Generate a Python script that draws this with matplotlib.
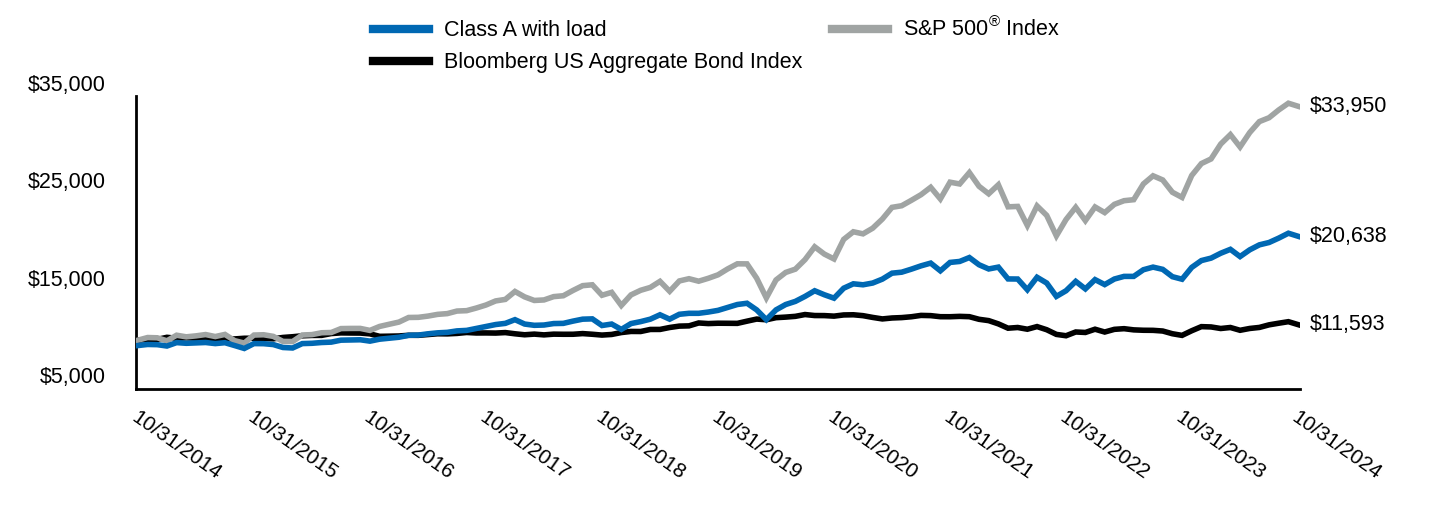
import matplotlib
matplotlib.use("Agg")
import matplotlib.pyplot as plt

plt.rcParams['font.family'] = ['Liberation Sans', 'DejaVu Sans']
plt.rcParams['mathtext.fontset'] = 'custom'
plt.rcParams['mathtext.rm'] = 'Liberation Sans'

months = list(range(121))
tick_positions = [0, 12, 24, 36, 48, 60, 72, 84, 96, 108, 120]
tick_labels = ["10/31/2014", "10/31/2015", "10/31/2016", "10/31/2017", "10/31/2018",
               "10/31/2019", "10/31/2020", "10/31/2021", "10/31/2022", "10/31/2023", "10/31/2024"]

class_a = [9450, 9560, 9540, 9400, 9750, 9680, 9720, 9760, 9650, 9740, 9450, 9150,
           9650, 9640, 9550, 9250, 9200, 9650, 9680, 9760, 9800, 10000, 10020, 10040,
           9900, 10100, 10200, 10300, 10500, 10520, 10650, 10750, 10800, 10950, 11000, 11200,
           11400, 11600, 11720, 12100, 11650, 11520, 11550, 11700, 11720, 11950, 12150, 12180,
           11500, 11650, 11100, 11700, 11900, 12150, 12600, 12150, 12650, 12750, 12750, 12880,
           13050, 13350, 13650, 13780, 13100, 12100, 13100, 13650, 13970, 14480, 15060, 14650,
           14300, 15320, 15770, 15670, 15850, 16250, 16860, 16960, 17270, 17610, 17890, 17100,
           17960, 18060, 18460, 17720, 17290, 17480, 16270, 16260, 15160, 16440, 15850, 14480,
           15060, 16020, 15250, 16200, 15690, 16260, 16530, 16530, 17210, 17480, 17250, 16500,
           16240, 17450, 18150, 18400, 18900, 19300, 18560, 19250, 19760, 20000, 20450, 20950,
           20638]

sp500 = [10000, 10269, 10243, 9936, 10507, 10341, 10440, 10575, 10370, 10588, 9950, 9704,
         10523, 10554, 10388, 9873, 9860, 10528, 10569, 10759, 10787, 11185, 11201, 11203,
         10999, 11406, 11632, 11853, 12323, 12338, 12465, 12641, 12719, 12981, 13021, 13290,
         13600, 14017, 14173, 14985, 14432, 14065, 14118, 14458, 14548, 15089, 15581, 15670,
         14598, 14896, 13551, 14636, 15106, 15399, 16023, 15005, 16062, 16293, 16036, 16336,
         16690, 17296, 17818, 17811, 16346, 14327, 16164, 16934, 17271, 18245, 19557, 18814,
         18314, 20319, 21099, 20886, 21463, 22402, 23599, 23764, 24318, 24897, 25653, 24460,
         26175, 25994, 27159, 25755, 24985, 25912, 23652, 23694, 21739, 23743, 22775, 20677,
         22352, 23601, 22241, 23638, 23061, 23907, 24280, 24384, 25996, 26830, 26403, 25144,
         24616, 26863, 28083, 28555, 30080, 31048, 29782, 31259, 32381, 32776, 33572, 34260,
         33950]

bond = [10000, 10071, 10080, 10292, 10195, 10242, 10205, 10181, 10070, 10140, 10126, 10195,
        10197, 10171, 10138, 10278, 10351, 10446, 10486, 10489, 10678, 10745, 10733, 10727,
        10645, 10393, 10408, 10429, 10499, 10494, 10575, 10656, 10645, 10691, 10787, 10735,
        10741, 10727, 10777, 10653, 10552, 10620, 10541, 10616, 10603, 10605, 10673, 10605,
        10521, 10584, 10779, 10893, 10887, 11096, 11099, 11297, 11439, 11464, 11761, 11699,
        11734, 11728, 11720, 11945, 12160, 12088, 12303, 12361, 12439, 12624, 12522, 12516,
        12460, 12582, 12600, 12509, 12329, 12175, 12271, 12311, 12397, 12536, 12512, 12403,
        12399, 12437, 12404, 12137, 12001, 11667, 11225, 11297, 11120, 11391, 11069, 10591,
        10453, 10838, 10789, 11121, 10833, 11108, 11176, 11054, 11014, 11006, 10936, 10658,
        10490, 10965, 11385, 11354, 11194, 11297, 11011, 11198, 11304, 11569, 11736, 11893,
        11593]

series_names = ["Class A with load", "Bloomberg US Aggregate Bond Index",
                "S&P 500$^{\\mathregular{\u00ae}}$ Index"]
end_labels = ["$20,638", "$11,593", "$33,950"]
y_ticks = [5000, 15000, 25000, 35000]
y_tick_labels = ["$5,000", "$15,000", "$25,000", "$35,000"]

colors = ["#0068B3", "#000000", "#A0A4A3"]

fig = plt.figure(figsize=(14.4, 5.16), dpi=100)
ax = fig.add_axes([136/1440, 1-389/516, (1300-136)/1440, (389-96)/516])

lines = []
for data, name, c in zip([class_a, bond, sp500], series_names, colors):
    l, = ax.plot(months, data, color=c, linewidth=4, label=name, solid_joinstyle='miter')
    lines.append(l)

lines[0].set_zorder(4)
lines[2].set_zorder(3)
lines[1].set_zorder(2)

ax.set_xlim(-0.2, 120.2)
ax.set_ylim(5000, 35000)
for s in ['top', 'right']:
    ax.spines[s].set_visible(False)
for s in ['left', 'bottom']:
    ax.spines[s].set_linewidth(2)
    ax.spines[s].set_color('black')

ax.set_yticks(y_ticks)
ax.set_yticklabels([])
ax.set_xticks(tick_positions)
ax.set_xticklabels([])
ax.tick_params(length=0)

fs = 15.5
for v, lab in zip(y_ticks, y_tick_labels):
    ax.annotate(lab, xy=(0, v), xycoords=('axes fraction', 'data'),
                xytext=(-30, 11), textcoords='offset pixels',
                ha='right', va='center', fontsize=fs, annotation_clip=False)

for p, lab in zip(tick_positions, tick_labels):
    ax.annotate(lab, xy=(p, 0), xycoords=('data', 'axes fraction'),
                xytext=(1, -19), textcoords='offset pixels',
                ha='left', va='top', rotation=-35, rotation_mode='anchor',
                fontsize=15, annotation_clip=False)

for data, lab in zip([class_a, bond, sp500], end_labels):
    ax.annotate(lab, xy=(120, data[-1]), xycoords='data',
                xytext=(12, 0), textcoords='offset pixels',
                ha='left', va='center', fontsize=fs, annotation_clip=False)

leg = fig.legend(handles=lines, labels=series_names, ncol=2, loc='upper left',
                 bbox_to_anchor=(373/1440, 1-17/516), frameon=False, fontsize=fs,
                 handlelength=2.6, handletextpad=0.72, columnspacing=1.35,
                 labelspacing=0.5, borderpad=0, borderaxespad=0)
for h in leg.get_lines():
    h.set_linewidth(6)

fig.savefig("out.png", dpi=100)
